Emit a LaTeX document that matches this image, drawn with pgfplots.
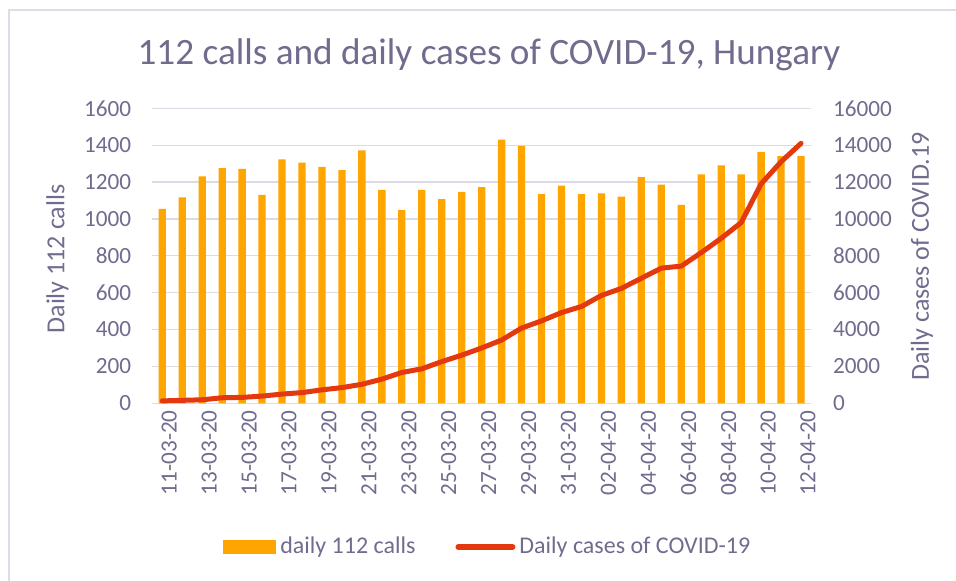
\documentclass[border=0pt]{standalone}
\usepackage{pgfplots}
\pgfplotsset{compat=1.18}
\usepackage{fontspec}
\setmainfont{Carlito}
\definecolor{barorange}{RGB}{255,165,0}
\definecolor{linered}{RGB}{228,56,14}
\definecolor{textgray}{RGB}{112,108,142}
\definecolor{gridgray}{RGB}{220,218,228}
\definecolor{framegray}{RGB}{222,220,230}
\pgfplotstableread{
x calls cases
0 1055 130
1 1117 160
2 1231 190
3 1275 300
4 1271 320
5 1131 390
6 1323 500
7 1305 580
8 1282 730
9 1264 850
10 1372 1030
11 1157 1310
12 1048 1670
13 1157 1870
14 1108 2260
15 1146 2610
16 1173 3000
17 1430 3430
18 1396 4080
19 1135 4470
20 1180 4920
21 1135 5250
22 1139 5850
23 1121 6230
24 1226 6780
25 1186 7330
26 1076 7440
27 1242 8170
28 1291 8950
29 1242 9800
30 1363 11900
31 1340 13100
32 1340 14100
}\datatable
\begin{document}
\begin{tikzpicture}
\useasboundingbox (0,0) rectangle (478pt,290.5pt);
\draw[framegray, line width=1pt] (4.25pt,-2pt) -- (4.25pt,285.5pt) -- (480pt,285.5pt);
\begin{axis}[
  at={(76.15pt,88.85pt)}, anchor=south west,
  scale only axis, width=329.35pt, height=147.5pt,
  xmin=-0.5, xmax=32.5, ymin=0, ymax=1600,
  ytick={0,200,...,1600},
  xtick={0,2,...,32},
  xticklabels={11-03-20,13-03-20,15-03-20,17-03-20,19-03-20,21-03-20,23-03-20,25-03-20,27-03-20,29-03-20,31-03-20,02-04-20,04-04-20,06-04-20,08-04-20,10-04-20,12-04-20},
  extra x ticks={-0.5,1.5,...,31.5},
  extra x tick labels={},
  extra x tick style={major tick length=4pt, tick style={draw=gridgray, line width=0.65pt}, grid=none},
  major tick length=0pt,
  tick align=outside,
  axis x line*=bottom, axis y line*=left,
  x axis line style={draw=gridgray, line width=0.65pt, -},
  y axis line style={draw=none},
  ytick style={draw=none}, xtick style={draw=none},
  ymajorgrids, grid style={draw=gridgray, line width=0.65pt},
  /pgf/number format/assume math mode=true,
  /pgf/number format/1000 sep={},
  ticklabel style={font=\fontsize{11.6}{13}\selectfont, text=textgray},
  yticklabel style={xshift=-7pt},
  xticklabel style={rotate=90, anchor=east, yshift=-3.5pt},
  ylabel={Daily 112 calls},
  every axis y label/.style={at={(axis description cs:-0.1442,0.489)}, rotate=90, anchor=center, font=\fontsize{13}{15}\selectfont, text=textgray},
  title={112 calls and daily cases of COVID-19, Hungary},
  every axis title/.style={at={(axis description cs:0.511,1.1468)}, anchor=base, font=\fontsize{18.6}{21}\selectfont, text=textgray},
]
\addplot[ybar, bar width=3.65pt, bar shift=0pt, fill=barorange, draw=none] table[x=x, y=calls] {\datatable};
\end{axis}
\begin{axis}[
  at={(76.15pt,88.85pt)}, anchor=south west,
  scale only axis, width=329.35pt, height=147.5pt,
  xmin=-0.5, xmax=32.5, ymin=0, ymax=16000,
  ytick={0,2000,...,16000},
  scaled y ticks=false,
  axis x line=none, axis y line*=right,
  y axis line style={draw=none},
  ytick style={draw=none},
  major tick length=0pt,
  /pgf/number format/assume math mode=true,
  /pgf/number format/1000 sep={},
  ticklabel style={font=\fontsize{11.6}{13}\selectfont, text=textgray},
  yticklabel style={xshift=7.5pt},
  ylabel={Daily cases of COVID.19},
  every axis y label/.style={at={(axis description cs:1.1685,0.4976)}, rotate=90, anchor=center, font=\fontsize{13}{15}\selectfont, text=textgray},
  legend columns=2,
  legend style={draw=none, fill=none, at={(axis description cs:0.511,-0.487)}, anchor=center,
    font=\fontsize{12}{14}\selectfont, text=textgray,
    /tikz/every odd column/.append style={column sep=0pt},
    /tikz/every even column/.append style={column sep=18pt}},
]
\addlegendimage{legend image code/.code={\fill[barorange] (0pt,-3.4pt) rectangle (26pt,3.4pt);}}
\addlegendentry{daily 112 calls}
\addplot[color=linered, line width=2.5pt, line cap=round, line join=round, mark=none,
  legend image code/.code={\draw[linered, line width=3pt, line cap=round] (0pt,0pt) -- (27pt,0pt);}]
  table[x=x, y=cases] {\datatable};
\addlegendentry{Daily cases of COVID-19}
\end{axis}
\end{tikzpicture}
\end{document}
